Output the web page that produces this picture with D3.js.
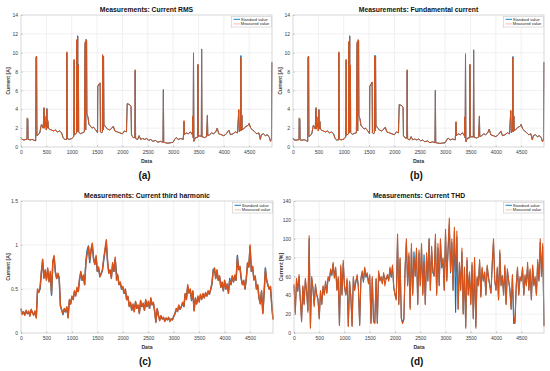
<!DOCTYPE html>
<html><head><meta charset="utf-8">
<script src="https://cdn.jsdelivr.net/npm/d3@7"></script>
<style>body{margin:0;background:#fff} svg{display:block} text{font-family:"Liberation Sans",Arial,Helvetica,sans-serif}</style>
</head><body><svg id="chart" width="550" height="371"></svg>
<script>
// ---------- DATA ----------
// sample index (shared by RMS and fundamental panels)
const dataIdx = [0,20,60,100,118,122,135,140,180,220,
260,290,296,308,314,340,370,400,420,440,
448,455,462,470,478,490,500,510,518,530,
540,560,600,640,680,720,760,800,830,860,
900,905,912,950,1000,1040,1048,1056,1080,1096,
1100,1108,1118,1124,1132,1138,1170,1210,1250,1262,
1270,1276,1284,1294,1300,1320,1340,1370,1400,1430,
1460,1490,1510,1515,1540,1560,1566,1590,1605,1610,
1620,1628,1636,1670,1710,1750,1790,1820,1850,1900,
1950,2000,2040,2080,2095,2140,2170,2178,2210,2245,
2252,2260,2300,2330,2360,2400,2440,2480,2520,2560,
2600,2650,2700,2750,2800,2808,2815,2850,2900,2950,
3000,3030,3060,3100,3150,3200,3215,3225,3260,3300,
3340,3380,3388,3395,3402,3410,3440,3480,3490,3498,
3530,3556,3562,3570,3620,3660,3676,3684,3720,3760,
3800,3840,3870,3900,3950,4000,4050,4100,4130,4180,
4230,4270,4295,4305,4330,4336,4344,4356,4364,4400,
4440,4480,4500,4530,4570,4610,4650,4690,4720,4740,
4780,4820,4860,4900,4920,4940,4948,4950];

const rmsStd = [1.0,0.82,0.74,0.8,0.82,3.0,2.9,0.8,0.76,0.8,
0.72,0.66,9.5,9.6,1.2,1.3,1.5,2.3,2.3,2.0,
3.7,4.1,2.0,3.2,2.2,2.6,1.8,4.1,2.0,2.7,
2.0,1.9,1.8,1.7,1.8,1.6,1.7,1.5,1.0,0.8,
0.8,10.0,0.9,0.8,0.9,1.1,9.2,1.3,1.4,1.5,
11.3,1.6,11.8,2.0,8.8,1.6,1.4,1.5,1.6,10.9,
11.1,1.8,11.4,11.2,3.4,3.2,2.4,2.2,2.0,2.1,
1.9,1.7,1.5,6.4,6.6,6.8,1.6,1.5,1.6,9.7,
1.8,9.6,2.4,2.1,1.9,1.8,2.0,2.2,1.7,1.6,
1.5,1.4,1.7,1.6,4.6,4.5,4.3,1.3,1.0,1.0,
8.1,0.9,0.8,1.2,0.8,0.9,0.8,0.9,0.7,0.8,
0.6,0.7,0.5,0.6,0.5,6.1,0.5,0.45,0.4,0.45,
0.5,0.8,1.0,0.8,0.9,0.8,2.7,1.3,1.5,1.4,
1.6,1.3,3.2,1.0,9.9,0.6,1.0,1.0,8.7,1.1,
1.2,1.1,10.4,1.1,1.0,1.1,3.3,1.2,1.3,1.5,
1.4,1.6,2.0,1.4,1.3,1.2,1.4,1.8,1.3,1.4,
1.6,1.5,3.9,1.6,1.8,9.7,1.7,3.3,1.8,2.0,
2.2,2.3,2.5,2.0,1.8,1.6,1.4,1.5,0.8,1.3,
1.4,1.2,1.3,1.0,0.6,0.8,8.9,9.0];

const rmsMeas = [1.0,0.8,0.75,0.8,0.8,3.1,3.0,0.8,0.75,0.8,
0.7,0.65,9.6,9.6,1.2,1.3,1.5,2.4,2.3,2.0,
3.8,4.2,2.0,3.3,2.2,2.6,1.8,4.0,2.0,2.8,
2.0,1.9,1.8,1.7,1.8,1.6,1.7,1.5,1.0,0.8,
0.8,10.1,0.9,0.8,0.9,1.1,9.3,1.3,1.4,1.5,
11.4,1.6,11.7,2.0,8.7,1.6,1.4,1.5,1.6,11.0,
11.2,1.8,11.4,11.3,3.5,3.2,2.4,2.2,2.0,2.1,
1.9,1.7,1.5,6.5,6.7,6.8,1.6,1.5,1.6,9.8,
1.8,9.6,2.4,2.1,1.9,1.8,2.0,2.2,1.7,1.6,
1.5,1.4,1.7,1.6,4.6,4.5,4.3,1.3,1.0,1.0,
8.2,0.9,0.8,1.2,0.8,0.9,0.8,0.9,0.7,0.8,
0.6,0.7,0.5,0.6,0.5,6.0,0.5,0.45,0.4,0.45,
0.5,0.8,1.0,0.8,0.9,0.8,2.8,1.3,1.5,1.4,
1.6,1.3,3.3,1.0,10.0,0.6,1.0,1.0,8.8,1.1,
1.2,1.1,10.3,1.1,1.0,1.1,3.4,1.2,1.3,1.5,
1.4,1.6,2.0,1.4,1.3,1.2,1.4,1.8,1.3,1.4,
1.6,1.5,4.0,1.6,1.8,9.5,1.7,3.4,1.8,2.0,
2.2,2.3,2.5,2.0,1.8,1.6,1.4,1.5,0.8,1.3,
1.4,1.2,1.3,1.0,0.6,0.8,9.0,9.0];

const fundStd = [0.95,0.76,0.72,0.78,0.76,3.0,2.9,0.75,0.72,0.78,
0.68,0.6,9.5,9.6,1.1,1.2,1.4,2.3,2.2,1.9,
3.8,4.1,1.9,3.2,2.1,2.5,1.7,4.0,1.9,2.7,
1.9,1.8,1.7,1.6,1.7,1.5,1.6,1.4,0.9,0.75,
0.75,10.0,0.85,0.75,0.85,1.05,9.2,1.25,1.35,1.4,
11.1,1.5,11.8,1.9,8.6,1.5,1.35,1.45,1.5,10.9,
11.1,1.7,11.3,11.2,3.3,3.0,2.3,2.1,1.9,2.0,
1.8,1.6,1.4,6.4,6.6,6.9,1.5,1.4,1.5,9.7,
1.7,9.6,2.3,2.0,1.8,1.7,1.9,2.1,1.6,1.5,
1.4,1.3,1.6,1.5,4.5,4.4,4.2,1.2,0.95,0.95,
8.1,0.85,0.75,1.1,0.75,0.85,0.75,0.85,0.65,0.75,
0.55,0.65,0.45,0.55,0.45,6.0,0.45,0.42,0.38,0.42,
0.45,0.75,0.95,0.75,0.85,0.75,2.6,1.2,1.4,1.3,
1.5,1.2,3.1,0.95,9.8,0.55,0.95,0.95,8.7,1.05,
1.1,1.05,10.3,1.05,0.95,1.05,3.2,1.1,1.2,1.4,
1.3,1.5,1.9,1.3,1.2,1.1,1.3,1.7,1.2,1.3,
1.5,1.4,3.8,1.5,1.7,9.6,1.6,3.2,1.7,1.9,
2.1,2.2,2.4,1.9,1.7,1.5,1.3,1.4,0.75,1.2,
1.3,1.1,1.2,0.95,0.55,0.75,8.9,9.0];

const fundMeas = [0.95,0.75,0.72,0.78,0.75,3.1,3.0,0.75,0.72,0.78,
0.68,0.6,9.6,9.6,1.1,1.2,1.4,2.3,2.2,1.9,
3.7,4.2,1.9,3.2,2.1,2.5,1.7,3.9,1.9,2.7,
1.9,1.8,1.7,1.6,1.7,1.5,1.6,1.4,0.9,0.75,
0.75,10.1,0.85,0.75,0.85,1.05,9.3,1.25,1.35,1.4,
11.2,1.5,11.7,1.9,8.7,1.5,1.35,1.45,1.5,11.0,
11.2,1.7,11.4,11.3,3.3,3.0,2.3,2.1,1.9,2.0,
1.8,1.6,1.4,6.5,6.7,6.9,1.5,1.4,1.5,9.6,
1.7,9.7,2.3,2.0,1.8,1.7,1.9,2.1,1.6,1.5,
1.4,1.3,1.6,1.5,4.5,4.4,4.2,1.2,0.95,0.95,
8.2,0.85,0.75,1.1,0.75,0.85,0.75,0.85,0.65,0.75,
0.55,0.65,0.45,0.55,0.45,6.0,0.45,0.42,0.38,0.42,
0.45,0.75,0.95,0.75,0.85,0.75,2.7,1.2,1.4,1.3,
1.5,1.2,3.2,0.95,9.9,0.55,0.95,0.95,8.8,1.05,
1.1,1.05,10.3,1.05,0.95,1.05,3.3,1.1,1.2,1.4,
1.3,1.5,1.9,1.3,1.2,1.1,1.3,1.7,1.2,1.3,
1.5,1.4,3.9,1.5,1.7,9.5,1.6,3.3,1.7,1.9,
2.1,2.2,2.4,1.9,1.7,1.5,1.3,1.4,0.75,1.2,
1.3,1.1,1.2,0.95,0.55,0.75,9.0,9.0];

// third harmonic: both series sampled every 25
const harmStd = [0.27,0.22,0.24,0.21,0.25,0.22,0.24,0.2,0.26,0.23,
0.21,0.24,0.18,0.48,0.47,0.5,0.68,0.82,0.63,0.7,
0.61,0.72,0.59,0.68,0.43,0.8,0.86,0.69,0.62,0.66,
0.62,0.31,0.26,0.21,0.27,0.24,0.29,0.18,0.37,0.33,
0.41,0.38,0.47,0.43,0.5,0.47,0.6,0.69,0.6,0.64,
0.55,0.82,0.94,0.99,0.8,0.93,1.0,0.84,0.78,0.86,
0.7,0.73,0.64,0.67,0.71,0.83,0.93,1.03,0.81,0.68,
0.71,0.63,0.78,0.7,0.84,0.68,0.65,0.55,0.57,0.5,
0.52,0.45,0.49,0.38,0.41,0.31,0.34,0.26,0.32,0.25,
0.35,0.28,0.31,0.23,0.36,0.3,0.33,0.26,0.37,0.3,
0.35,0.28,0.39,0.32,0.34,0.25,0.13,0.27,0.2,0.15,
0.19,0.16,0.17,0.14,0.17,0.15,0.17,0.14,0.16,0.15,
0.19,0.22,0.27,0.25,0.31,0.27,0.3,0.34,0.3,0.44,
0.39,0.53,0.46,0.49,0.37,0.47,0.26,0.39,0.33,0.41,
0.36,0.43,0.39,0.44,0.4,0.45,0.42,0.47,0.44,0.49,
0.55,0.72,0.73,0.62,0.7,0.6,0.64,0.52,0.57,0.48,
0.59,0.5,0.55,0.46,0.62,0.55,0.64,0.58,0.65,0.6,
0.88,0.72,0.75,0.62,0.55,0.59,0.5,0.61,0.79,0.75,
0.98,0.7,0.75,0.61,0.64,0.5,0.54,0.4,0.34,0.47,
0.23,0.44,0.74,0.6,0.54,0.5,0.52,0.33,0.16];

const harmMeas = [0.28,0.21,0.24,0.2,0.26,0.22,0.25,0.19,0.27,0.23,
0.2,0.25,0.17,0.5,0.46,0.52,0.7,0.84,0.62,0.72,
0.6,0.74,0.58,0.7,0.45,0.82,0.88,0.7,0.62,0.68,
0.63,0.3,0.26,0.22,0.28,0.24,0.3,0.17,0.38,0.33,
0.42,0.38,0.48,0.42,0.52,0.47,0.62,0.7,0.6,0.66,
0.55,0.8,0.9,0.98,0.82,0.95,1.02,0.85,0.78,0.88,
0.7,0.75,0.64,0.68,0.72,0.85,0.95,1.06,0.82,0.68,
0.72,0.62,0.8,0.7,0.86,0.6,0.66,0.55,0.58,0.5,
0.53,0.45,0.5,0.38,0.42,0.3,0.35,0.26,0.33,0.24,
0.36,0.28,0.32,0.22,0.37,0.3,0.34,0.26,0.38,0.3,
0.36,0.28,0.4,0.32,0.35,0.25,0.12,0.28,0.2,0.14,
0.2,0.16,0.18,0.13,0.17,0.15,0.18,0.13,0.16,0.15,
0.19,0.22,0.28,0.24,0.32,0.27,0.3,0.35,0.3,0.45,
0.38,0.55,0.45,0.5,0.38,0.48,0.25,0.4,0.33,0.42,
0.35,0.44,0.38,0.45,0.4,0.46,0.42,0.48,0.44,0.5,
0.56,0.7,0.74,0.62,0.72,0.6,0.65,0.52,0.58,0.48,
0.6,0.5,0.56,0.45,0.6,0.55,0.65,0.58,0.66,0.6,
0.86,0.72,0.76,0.62,0.55,0.6,0.5,0.62,0.8,0.75,
1.0,0.7,0.76,0.6,0.65,0.5,0.55,0.4,0.33,0.48,
0.22,0.45,0.72,0.6,0.55,0.5,0.53,0.32,0.15];

// THD: both series sampled every 25
const thdStd = [50,22,56,44,60,36,14,49,31,56,44,24,100,6,58,47,30,50,41,36,
16,44,31,49,41,54,43,58,56,66,61,73,59,68,46,58,9,70,41,74,
49,41,56,8,54,39,8,58,46,54,60,49,9,57,64,54,68,59,62,53,
60,11,58,13,11,57,11,64,56,59,53,62,58,57,60,56,68,59,70,49,
41,36,100,31,78,16,11,15,68,96,51,82,27,90,42,86,61,86,31,85,
51,90,42,83,31,82,56,100,46,88,64,61,100,42,90,51,96,69,78,46,
105,56,87,115,64,96,46,107,22,102,26,73,46,86,21,68,7,77,41,63,
31,72,16,77,7,58,51,75,39,68,56,63,41,70,59,51,43,72,96,56,
46,68,36,85,51,61,41,70,31,66,56,46,26,60,10,11,51,68,41,58,
56,68,41,60,51,71,46,66,36,70,51,58,41,75,56,96,61,92,8];

const thdMeas = [52,20,58,45,62,35,12,50,30,58,45,22,103,5,60,48,28,52,40,35,
15,45,30,50,40,55,42,60,55,68,62,75,58,70,45,60,8,72,40,77,
50,40,58,7,55,38,7,60,45,55,62,48,8,58,66,55,70,60,64,52,
62,10,60,12,10,58,10,66,55,60,52,64,50,58,62,55,70,60,72,48,
40,35,105,30,80,15,10,14,70,100,50,85,25,95,40,80,60,90,30,88,
50,95,40,75,30,85,55,100,45,92,65,60,105,40,95,50,100,70,80,45,
110,55,90,122,65,100,45,112,60,108,25,75,45,90,20,70,5,80,40,65,
30,75,15,80,5,60,50,78,38,70,55,65,40,72,60,50,42,75,100,55,
45,70,35,88,50,60,40,72,30,68,55,45,25,62,18,10,50,70,40,60,
55,70,40,62,50,75,45,68,35,72,50,60,40,78,55,100,60,95,7];

const sampleStep = 25;
const xTicks = [0,500,1000,1500,2000,2500,3000,3500,4000,4500];
const rmsTicks = [0,2,4,6,8,10,12,14];
const harmTicks = [0,0.5,1,1.5];
const thdTicks = [0,20,40,60,80,100,120,140];
const seriesNames = ["Standard value","Measured value"];
const titles = ["Measurements: Current RMS","Measurements: Fundamental current","Measurements: Current third harmonic","Measurements: Current THD"];
const yLabels = ["Current [A]","Current [A]","Current [A]","Current [%]"];
const tags = ["(a)","(b)","(c)","(d)"];

// ---------- DRAW ----------
const svg = d3.select("#chart");
const BLUE = "#0072BD", ORANGE = "#D95319";

const panels = [
  {l:21, r:272, t:15, b:147, ticks:rmsTicks, ymax:14, sw:1.0,
   std: dataIdx.map((x,i)=>[x, rmsStd[i]]), meas: dataIdx.map((x,i)=>[x, rmsMeas[i]])},
  {l:293, r:544, t:15, b:147, ticks:rmsTicks, ymax:14, sw:1.0,
   std: dataIdx.map((x,i)=>[x, fundStd[i]]), meas: dataIdx.map((x,i)=>[x, fundMeas[i]])},
  {l:21, r:273, t:201, b:333, ticks:harmTicks, ymax:1.5, sw:1.4,
   std: harmStd.map((v,i)=>[i*sampleStep, v]), meas: harmMeas.map((v,i)=>[i*sampleStep, v])},
  {l:294, r:544, t:201, b:333, ticks:thdTicks, ymax:140, sw:1.1,
   std: thdStd.map((v,i)=>[i*sampleStep, v]), meas: thdMeas.map((v,i)=>[i*sampleStep, v])}
];

panels.forEach((p, k) => {
  const g = svg.append("g");
  const x = d3.scaleLinear().domain([0, 4950]).range([p.l, p.r]);
  const y = d3.scaleLinear().domain([0, p.ymax]).range([p.b, p.t]);

  // grid
  g.append("g").selectAll("line").data(xTicks.filter(d=>d>0)).join("line")
    .attr("x1", d=>x(d)).attr("x2", d=>x(d)).attr("y1", p.t).attr("y2", p.b)
    .attr("stroke", "#e6e6e6").attr("stroke-width", 0.6);
  g.append("g").selectAll("line").data(p.ticks.filter(d=>d>0 && d<p.ymax)).join("line")
    .attr("x1", p.l).attr("x2", p.r).attr("y1", d=>y(d)).attr("y2", d=>y(d))
    .attr("stroke", "#e6e6e6").attr("stroke-width", 0.6);

  // lines
  const line = d3.line().x(d=>x(d[0])).y(d=>y(d[1]));
  g.append("path").datum(p.std).attr("d", line).attr("fill","none")
    .attr("stroke", BLUE).attr("stroke-width", p.sw).attr("stroke-linejoin","round");
  g.append("path").datum(p.meas).attr("d", line).attr("fill","none")
    .attr("stroke", ORANGE).attr("stroke-width", p.sw).attr("stroke-linejoin","round");

  // box
  g.append("rect").attr("x", p.l).attr("y", p.t).attr("width", p.r-p.l).attr("height", p.b-p.t)
    .attr("fill","none").attr("stroke","#bdbdbd").attr("stroke-width",0.6);

  // axes
  const xa = g.append("g").attr("transform", `translate(0,${p.b})`)
    .call(d3.axisBottom(x).tickValues(xTicks).tickSize(-1.5).tickPadding(3).tickFormat(d3.format("d")));
  const ya = g.append("g").attr("transform", `translate(${p.l},0)`)
    .call(d3.axisLeft(y).tickValues(p.ticks).tickSize(-1.5).tickPadding(3).tickFormat(d=>String(d)));
  [xa, ya].forEach(a => {
    a.select(".domain").remove();
    a.selectAll(".tick line").attr("stroke","#999").attr("stroke-width",0.5);
    a.selectAll(".tick text").attr("font-size", 5).attr("fill","#3a3a3a")
      .attr("font-family","Liberation Sans, Arial, sans-serif");
  });

  // title
  g.append("text").attr("x", (p.l+p.r)/2).attr("y", p.t-3.5).attr("text-anchor","middle")
    .attr("font-size", 6.8).attr("font-weight","bold").attr("fill","#111").text(titles[k]);
  // x label
  g.append("text").attr("x", (p.l+p.r)/2).attr("y", p.b+16).attr("text-anchor","middle")
    .attr("font-size", 5.2).attr("font-weight","bold").attr("fill","#333").text("Data");
  // y label
  g.append("text").attr("transform", `translate(${p.l-11},${(p.t+p.b)/2}) rotate(-90)`)
    .attr("text-anchor","middle").attr("font-size", 5.2).attr("font-weight","bold").attr("fill","#333").text(yLabels[k]);
  // tag
  g.append("text").attr("x", (p.l+p.r)/2 - 2).attr("y", p.b+32).attr("text-anchor","middle")
    .attr("font-size", 10).attr("font-weight","bold").attr("fill","#111")
    .attr("font-family","Liberation Serif, Times New Roman, serif").text(tags[k]);

  // legend
  const lw = 40, lh = 10.5, lx = p.r - lw - 0.5, ly = p.t + 1.5;
  const lg = g.append("g");
  lg.append("rect").attr("x", lx).attr("y", ly).attr("width", lw).attr("height", lh)
    .attr("fill","#fff").attr("stroke","#bdbdbd").attr("stroke-width",0.5);
  const legCols = [BLUE, "#f2b9a1"];
  seriesNames.forEach((n, i) => {
    const yy = ly + 2.8 + i*4.6;
    lg.append("line").attr("x1", lx+2).attr("x2", lx+8.5).attr("y1", yy).attr("y2", yy)
      .attr("stroke", legCols[i]).attr("stroke-width", 0.9);
    lg.append("text").attr("x", lx+9.3).attr("y", yy+1.4).attr("font-size", 4.0)
      .attr("fill","#222").text(n);
  });
});
</script></body></html>
